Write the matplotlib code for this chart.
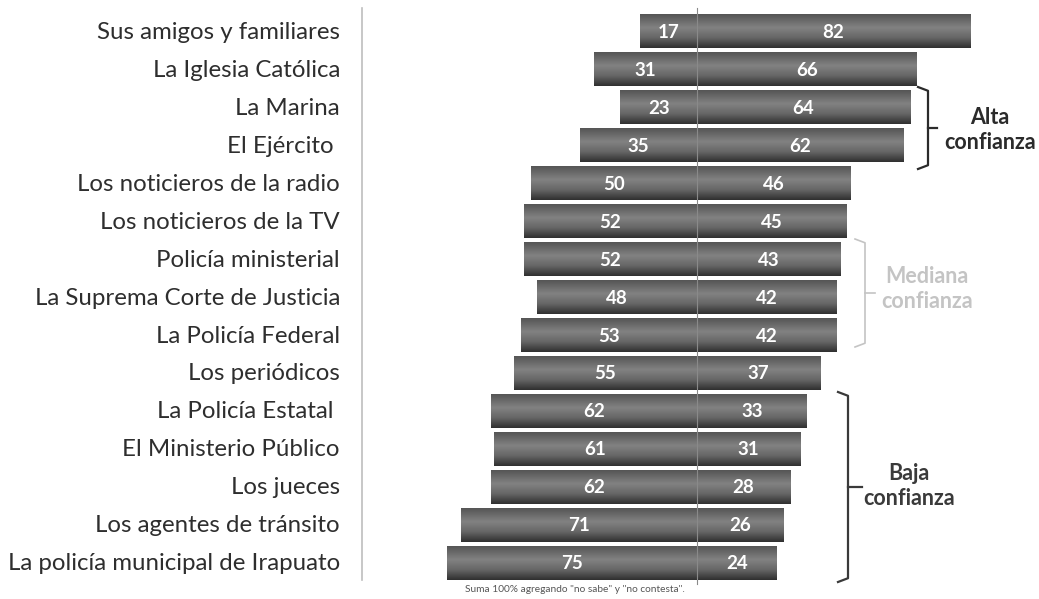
import numpy as np
import matplotlib
matplotlib.use("Agg")
import matplotlib.pyplot as plt
from matplotlib.colors import LinearSegmentedColormap

categories = [
    "Sus amigos y familiares",
    "La Iglesia Católica",
    "La Marina",
    "El Ejército ",
    "Los noticieros de la radio",
    "Los noticieros de la TV",
    "Policía ministerial",
    "La Suprema Corte de Justicia",
    "La Policía Federal",
    "Los periódicos",
    "La Policía Estatal ",
    "El Ministerio Público",
    "Los jueces",
    "Los agentes de tránsito",
    "La policía municipal de Irapuato",
]
poca_confianza = [17, 31, 23, 35, 50, 52, 52, 48, 53, 55, 62, 61, 62, 71, 75]
mucha_confianza = [82, 66, 64, 62, 46, 45, 43, 42, 42, 37, 33, 31, 28, 26, 24]

group_labels = ["Alta\nconfianza", "Mediana\nconfianza", "Baja\nconfianza"]
footnote = 'Suma 100% agregando "no sabe" y "no contesta".'

FONT = "Lato"
W, H = 1039, 599
fig = plt.figure(figsize=(W / 100, H / 100), dpi=100)
ax = fig.add_axes([0, 0, 1, 1])

px_per_unit = 3.33
cx = 697
x0 = -cx / px_per_unit
x1 = (W - cx) / px_per_unit
row0 = 31.5
rowh = 37.97
ax.set_xlim(x0, x1)
ax.set_ylim((H - row0) / rowh, -row0 / rowh)
ax.axis("off")

def px2x(p):
    return (p - cx) / px_per_unit

def py2y(p):
    return (p - row0) / rowh

cmap = LinearSegmentedColormap.from_list(
    "bar", [(0, "#555555"), (0.4, "#828282"), (0.7, "#666666"), (1, "#303030")])
grad = np.linspace(0, 1, 64).reshape(-1, 1)

bh = 0.87
n = len(categories)
for i in range(n):
    left = poca_confianza[i]
    right = mucha_confianza[i]
    bars = ax.barh([i, i], [left, right], left=[-left, 0], height=bh,
                   color="none", edgecolor="none")
    for b in bars:
        xx, yy = b.get_x(), b.get_y()
        ww, hh = b.get_width(), b.get_height()
        ax.imshow(grad, cmap=cmap, aspect="auto",
                  extent=(xx, xx + ww, yy + hh, yy), zorder=2,
                  interpolation="bicubic")
    ax.text(-left / 2, i + 0.02, str(left), ha="center", va="center",
            color="white", fontsize=13.5, fontweight="bold",
            family=FONT, zorder=4)
    ax.text(right / 2, i + 0.02, str(right), ha="center", va="center",
            color="white", fontsize=13.5, fontweight="bold",
            family=FONT, zorder=4)
    ax.text(px2x(340), i + 0.02, categories[i], ha="right", va="center",
            color="#2e2e2e", fontsize=17.3, family=FONT, zorder=4)

# center line and axis line
ax.plot([0, 0], [py2y(8), py2y(584)], color="#8a8a8a", lw=0.8, zorder=3)
ax.plot([px2x(362), px2x(362)], [py2y(8), py2y(580)], color="#bdbdbd",
        lw=1.2, zorder=1)

# braces
def brace(xp, ytop, ybot, color, lw=1.6, hook=10, tip=9):
    xb = px2x(xp)
    dh = hook / px_per_unit
    dt = tip / px_per_unit
    ym = (ytop + ybot) / 2
    c = 0.1
    ax.plot([xb - dh, xb, xb, xb, xb, xb, xb - dh],
            [ytop, ytop + c, ym - c, ym, ym + c, ybot - c, ybot],
            color=color, lw=lw, zorder=3, solid_joinstyle="round")
    ax.plot([xb, xb + dt], [ym, ym], color=color, lw=lw, zorder=3)

brace(928, py2y(87), py2y(169), "#2b2b2b", tip=9)
brace(865, py2y(239), py2y(347), "#c4c4c4", lw=1.2, tip=10)
brace(848, py2y(392), py2y(582), "#3a3a3a", tip=14)

ax.text(px2x(990), py2y(130), group_labels[0], ha="center", va="center",
        color="#2b2b2b", fontsize=15.5, fontweight="bold", family=FONT,
        linespacing=1.25)
ax.text(px2x(927), py2y(289), group_labels[1], ha="center", va="center",
        color="#c4c4c4", fontsize=15.5, fontweight="bold", family=FONT,
        linespacing=1.2)
ax.text(px2x(909), py2y(486), group_labels[2], ha="center", va="center",
        color="#3a3a3a", fontsize=15.5, fontweight="bold", family=FONT,
        linespacing=1.2)

ax.text(px2x(465), py2y(589), footnote, ha="left", va="center",
        color="#555555", fontsize=7.3, family=FONT)

fig.savefig("out.png", dpi=100)
